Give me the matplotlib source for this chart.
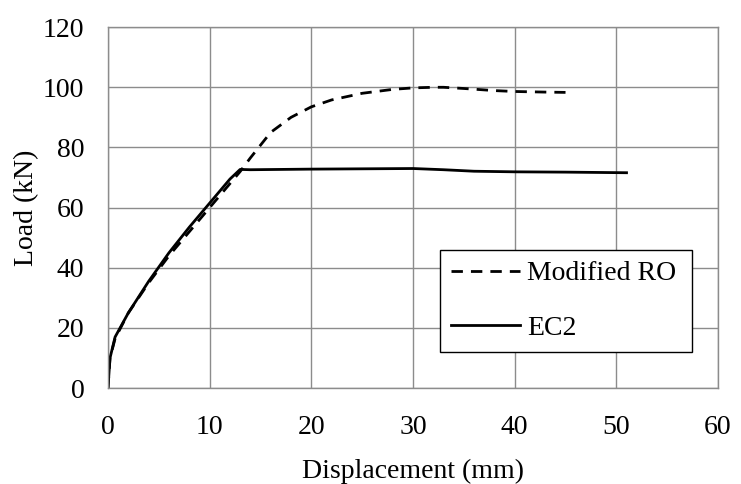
import matplotlib
matplotlib.use("Agg")
import matplotlib.pyplot as plt

ro_x = [0, 0.2, 0.7, 2, 4, 6, 8, 10, 12, 13, 14, 16, 18, 20, 22, 25, 28, 30, 32, 33, 35, 38, 40, 43, 45]
ro_y = [0, 10, 16.5, 25, 35, 44, 52, 60, 68, 72, 76.5, 85, 90, 93.5, 95.8, 98, 99.3, 99.8, 100, 100, 99.6, 98.9, 98.6, 98.4, 98.3]

ec2_x = [0, 0.2, 0.7, 2, 4, 6, 8, 10, 12, 13, 14, 20, 30, 33, 36, 40, 45, 51]
ec2_y = [0, 10, 17, 25, 35.5, 45, 53.5, 61.5, 69.5, 72.7, 72.6, 72.8, 73, 72.6, 72.1, 71.9, 71.8, 71.6]

xticks = [0, 10, 20, 30, 40, 50, 60]
yticks = [0, 20, 40, 60, 80, 100, 120]

FS = 20
plt.rcParams['font.family'] = ['Liberation Serif', 'DejaVu Serif']
plt.rcParams['font.size'] = FS

fig = plt.figure(figsize=(7.41, 4.84), dpi=100)
ax = fig.add_axes([0.1457, 0.198, 0.8233, 0.746])

ax.plot(ro_x, ro_y, color='black', lw=2.0, linestyle=(0, (4.1, 2.9)), label='Modified RO')
ax.plot(ec2_x, ec2_y, color='black', lw=2.0, label='EC2')

ax.set_xlim(0, 60)
ax.set_ylim(0, 120)
ax.set_xticks(xticks)
ax.set_yticks(yticks)
ax.grid(True, color='#8c8c8c', lw=1.0)
for s in ax.spines.values():
    s.set_color('#8c8c8c')
    s.set_linewidth(1.0)
ax.tick_params(axis='x', length=0, pad=19, labelsize=FS)
ax.tick_params(axis='y', length=0, pad=17, labelsize=FS)
ax.set_axisbelow(True)

ax.set_xlabel('Displacement (mm)', fontsize=FS, labelpad=14)
ax.set_ylabel('Load (kN)', fontsize=FS, labelpad=3)

leg = ax.legend(loc='center', bbox_to_anchor=(0.544, 0.0997, 0.413, 0.283),
                fancybox=False, framealpha=1, edgecolor='black', fontsize=FS,
                handlelength=2.5, handletextpad=0.25, borderpad=0.4, labelspacing=1.05,
                borderaxespad=0, mode='expand')
leg.get_frame().set_linewidth(1.0)

fig.savefig('out.png', dpi=100)
